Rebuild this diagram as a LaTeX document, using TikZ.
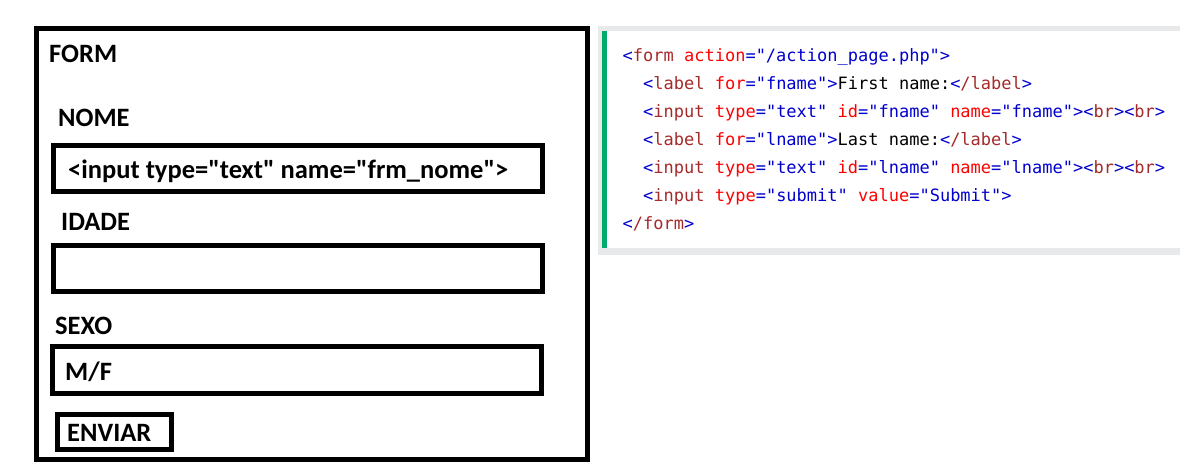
\documentclass[tikz,border=0pt]{standalone}
\usepackage{fontspec}
\setmainfont{Carlito}[Ligatures=TeXOff]
\newfontfamily\codefont{DejaVu Sans Mono}
\definecolor{tagblue}{HTML}{0000CD}
\definecolor{tagbrown}{HTML}{A52A2A}
\definecolor{attrred}{HTML}{FF0000}
\definecolor{codegreen}{HTML}{04AA6D}
\definecolor{codegray}{HTML}{E7E9EB}
\newcommand\cdB[1]{\textcolor{tagblue}{#1}}
\newcommand\cdN[1]{\textcolor{tagbrown}{#1}}
\newcommand\cdA[1]{\textcolor{attrred}{#1}}
\begin{document}
\begin{tikzpicture}[x=1pt,y=-1pt,
  frame/.style={draw=black,line width=5pt,inner sep=0pt,fill=none},
  lbl/.style={anchor=base west,inner sep=0pt,font=\fontsize{26.5}{30}\selectfont\bfseries},
  code/.style={anchor=base west,inner sep=0pt,font=\codefont\fontsize{17}{20}\selectfont}]
\useasboundingbox (0,0) rectangle (1198,474);
% form boxes
\node[frame,minimum width=551pt,minimum height=430.5pt] (outer) at (312,243.75) {};
\node[frame,minimum width=488.5pt,minimum height=46pt] (box1) at (297.75,168.8) {};
\node[frame,minimum width=489pt,minimum height=46pt] (box2) at (298,268.8) {};
\node[frame,minimum width=489pt,minimum height=46.4pt] (box3) at (297,370) {};
\node[frame,minimum width=114pt,minimum height=34.4pt] (btn) at (114.5,432) {};
% labels
\node[lbl] (form) at (49,62.5) {FORM};
\node[lbl] (nome) at (58,126.7) {NOME};
\node[lbl] (idade) at (61,230) {IDADE};
\node[lbl] (sexo) at (55,334) {SEXO};
\node[lbl] (inp) at (68,178.3) {<input type="text" name="frm\_nome">};
\node[lbl] (mf) at (65,380) {M/F};
\node[lbl] (enviar) at (67,441.7) {ENVIAR};
% code block
\fill[codegray] (598,26) rectangle (1180,255);
\fill[white] (602,31) rectangle (1180,248);
\fill[codegreen] (602,31) rectangle (607,248);
\node[code] (c1) at (622.5,61) {\cdB{<}\cdN{form} \cdA{action}\cdB{="/action\_page.php">}};
\node[code] (c2) at (643,89) {\cdB{<}\cdN{label} \cdA{for}\cdB{="fname">}First name:\cdB{<}\cdN{/label}\cdB{>}};
\node[code] (c3) at (643,117) {\cdB{<}\cdN{input} \cdA{type}\cdB{="text"} \cdA{id}\cdB{="fname"} \cdA{name}\cdB{="fname">}\cdB{<}\cdN{br}\cdB{>}\cdB{<}\cdN{br}\cdB{>}};
\node[code] (c4) at (643,145) {\cdB{<}\cdN{label} \cdA{for}\cdB{="lname">}Last name:\cdB{<}\cdN{/label}\cdB{>}};
\node[code] (c5) at (643,173) {\cdB{<}\cdN{input} \cdA{type}\cdB{="text"} \cdA{id}\cdB{="lname"} \cdA{name}\cdB{="lname">}\cdB{<}\cdN{br}\cdB{>}\cdB{<}\cdN{br}\cdB{>}};
\node[code] (c6) at (643,201) {\cdB{<}\cdN{input} \cdA{type}\cdB{="submit"} \cdA{value}\cdB{="Submit">}};
\node[code] (c7) at (622.5,229) {\cdB{<}\cdN{/form}\cdB{>}};
\end{tikzpicture}
\end{document}
